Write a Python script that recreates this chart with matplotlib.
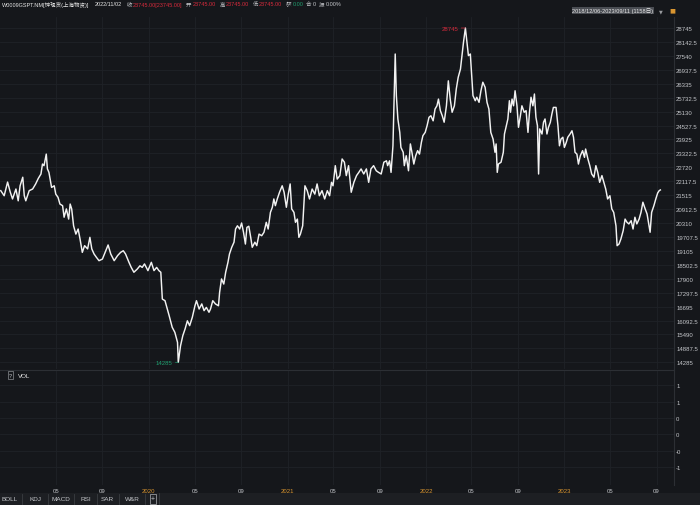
import numpy as np
import pandas as pd
import matplotlib
matplotlib.use("Agg")
import matplotlib.pyplot as plt

plt.rcParams['font.family'] = ['Liberation Sans', 'Noto Sans CJK SC', 'DejaVu Sans']

# zinc spot price (days counted from 2018-12-06)
start = pd.Timestamp('2018-12-06')
days_since_start = [
    1, 10, 19, 26, 32, 41, 47, 52, 59, 63, 67, 76, 85, 93, 100, 107, 111, 115, 121, 124,
    128, 135, 142, 146, 152, 157, 164, 168, 174, 180, 184, 188, 193, 199, 205, 210, 216, 222,
    230, 236, 241, 247, 253, 260, 269, 276, 284, 291, 300, 309, 317, 324, 330, 339, 345, 352,
    361, 368, 374, 380, 389, 398, 405, 412, 418, 423, 427, 434, 445, 453, 460, 467, 469, 475,
    481, 487, 493, 499, 506, 513, 517, 524, 531, 537, 543, 550, 554, 560, 567, 575, 578, 583,
    589, 594, 600, 604, 610, 616, 620, 625, 631, 636, 641, 646, 650, 655, 660, 664, 671, 676,
    682, 689, 695, 701, 706, 712, 717, 721, 725, 730, 736, 743, 748, 754, 759, 764, 768, 774,
    778, 783, 787, 791, 797, 803, 809, 815, 822, 829, 835, 841, 848, 855, 862, 868, 873, 877,
    883, 888, 895, 901, 907, 912, 918, 925, 932, 939, 945, 951, 958, 965, 971, 977, 984, 991,
    997, 1004, 1011, 1018, 1021, 1026, 1030, 1035, 1041, 1044, 1048, 1053, 1056, 1062, 1065,
    1070, 1076, 1081, 1085, 1090, 1095, 1100, 1105, 1110, 1114, 1120, 1125, 1130, 1135, 1141,
    1146, 1151, 1155, 1160, 1165, 1170, 1176, 1181, 1186, 1191, 1197, 1202, 1207, 1213, 1218,
    1221, 1226, 1230, 1234, 1239, 1242, 1246, 1252, 1256, 1262, 1267, 1272, 1278, 1283, 1288,
    1293, 1299, 1304, 1307, 1310, 1313, 1320, 1326, 1329, 1333, 1338, 1342, 1345, 1349, 1353,
    1357, 1362, 1366, 1371, 1375, 1381, 1386, 1391, 1395, 1399, 1404, 1408, 1412, 1416, 1419,
    1422, 1428, 1432, 1436, 1441, 1445, 1450, 1454, 1458, 1465, 1470, 1474, 1478, 1483, 1487,
    1492, 1496, 1502, 1507, 1511, 1515, 1520, 1524, 1529, 1535, 1540, 1543, 1549, 1554, 1559,
    1565, 1570, 1575, 1580, 1586, 1591, 1596, 1601, 1607, 1612, 1617, 1623, 1626, 1631, 1636,
    1642, 1647, 1652, 1657, 1663, 1668, 1673, 1678, 1684, 1689, 1694, 1700, 1705, 1710, 1713,
    1717, 1723, 1728, 1733, 1737, 1740,
]
close = [
    21710, 21490, 22080, 21650, 21350, 21780, 21270, 21920, 22290, 21490, 21270, 21710, 21780,
    22000, 22240, 22430, 22860, 22790, 23290, 22650, 22500, 21850, 21920, 21560, 21420, 21130,
    21060, 20560, 20920, 20480, 21130, 20920, 20190, 19830, 20050, 19620, 19040, 19330, 19190,
    19690, 19190, 18970, 18830, 18680, 18750, 19040, 19360, 18970, 18680, 18900, 19040, 19110,
    18970, 18610, 18390, 18180, 18320, 18460, 18390, 18540, 18250, 18610, 18250, 18390, 18250,
    18180, 17020, 16950, 16300, 15800, 15580, 15150, 14285, 15000, 15440, 15730, 16080, 15870,
    16230, 16730, 16950, 16590, 16810, 16520, 16660, 16450, 16590, 16950, 16810, 16730, 17310,
    17890, 17670, 18180, 18610, 18970, 19260, 19480, 20050, 20190, 20050, 20310, 19910, 19400,
    20120, 20170, 19690, 19260, 19480, 19330, 19830, 19760, 19910, 20340, 20050, 20770, 20990,
    21350, 21060, 21350, 21640, 21920, 21640, 20990, 21560, 22000, 20920, 20770, 20340, 20480,
    19690, 19830, 20190, 21920, 21710, 21350, 21780, 21560, 22000, 21490, 21710, 21350, 21710,
    21490, 22070, 21920, 22790, 22210, 22360, 23080, 22940, 22360, 22790, 21640, 22070, 22360,
    22500, 22650, 22430, 22650, 22070, 22650, 22790, 22570, 22500, 22430, 22940, 23000, 22790,
    23000, 22500, 23650, 27620, 25820, 24810, 24230, 23580, 23370, 22790, 23220, 22570, 23730,
    23370, 22860, 23220, 23440, 23290, 23800, 24090, 24230, 24520, 24880, 24950, 24730, 25240,
    25380, 25670, 25170, 24950, 24670, 25380, 26460, 25670, 25100, 25380, 26110, 26610, 26970,
    27690, 28130, 28745, 28130, 27550, 27620, 26830, 25820, 25600, 25750, 25530, 26030, 26400,
    26180, 25530, 25240, 24230, 23940, 23370, 23730, 22500, 22860, 22940, 23370, 24160, 24450,
    24810, 25600, 25100, 25670, 25380, 26030, 25380, 24450, 24950, 25380, 25100, 25170, 24230,
    25100, 25750, 25380, 25890, 24880, 24520, 22430, 24380, 24160, 24670, 24810, 24160, 24450,
    24670, 25020, 25310, 25310, 24520, 23650, 23940, 24020, 23580, 23800, 24020, 24160, 24300,
    24020, 23370, 23290, 22860, 23220, 23440, 23150, 23510, 23080, 22790, 22430, 22290, 22790,
    22500, 22070, 22360, 22070, 21780, 21350, 21490, 20920, 20770, 20190, 19330, 19400, 19620,
    19980, 20480, 20340, 20270, 20410, 20050, 20560, 20270, 20480, 20770, 21210, 20920, 20700,
    20190, 19910, 20770, 21060, 21350, 21610, 21710, 21740,
]
dates = start + pd.to_timedelta(days_since_start, unit='D')

price_ticks = np.arange(14285, 28745 + 1, 602.5)
vol_ticks = [1.2, 0.8, 0.4, 0.0, -0.4, -0.8]
x_tick_dates = pd.to_datetime([
    '2019-05-01', '2019-09-01', '2020-01-01', '2020-05-01', '2020-09-01', '2021-01-01',
    '2021-05-01', '2021-09-01', '2022-01-01', '2022-05-01', '2022-09-01', '2023-01-01',
    '2023-05-01', '2023-09-01'])
x_tick_labels = ['05', '09', '2020', '05', '09', '2021', '05', '09', '2022', '05', '09',
                 '2023', '05', '09']
buttons = ['BOLL', 'KDJ', 'MACD', 'RSI', 'SAR', 'W&R']

BG = '#15171b'
GRID = '#1f2227'
TXT = '#c4c6ca'
RED = '#d62a3c'
GREEN = '#1f9e6e'
ORANGE = '#d99530'
W, H = 700, 506

fig = plt.figure(figsize=(W / 100, H / 100), dpi=100, facecolor=BG)


def box(x0, y0, x1, y1):
    # pixel box (top-left origin) -> figure fraction rect
    return [x0 / W, 1 - y1 / H, (x1 - x0) / W, (y1 - y0) / H]


xlim = (start - pd.Timedelta(days=1), start + pd.Timedelta(days=1776))

ax = fig.add_axes(box(0, 18, 674, 370), facecolor=BG)
ax.plot(dates, close, color='#f2f2f2', lw=1.05, solid_joinstyle='round')
ax.set_xlim(xlim)
ax.set_ylim(13995, 29221)
ax.yaxis.tick_right()
ax.set_yticks(price_ticks)
ax.set_yticklabels([f'{v:.0f}' if v == int(v) else f'{v:.1f}' for v in price_ticks])
ax.set_xticks(x_tick_dates)
ax.tick_params(axis='y', length=0, pad=1.5, labelsize=4.3, labelcolor=TXT)
ax.tick_params(axis='x', length=0, labelbottom=False)
ax.grid(True, color=GRID, lw=0.6)
for s in ['top', 'left', 'bottom']:
    ax.spines[s].set_visible(False)
ax.spines['right'].set_color('#2c2f34')
ax.spines['right'].set_linewidth(0.8)

# max / min markers
i_max = int(np.argmax(close))
i_min = int(np.argmin(close))
ax.annotate(f'{close[i_max]}', xy=(dates[i_max], close[i_max]), xytext=(-5, 0),
            textcoords='offset points', ha='right', va='center', fontsize=4.3, color=RED,
            arrowprops=dict(arrowstyle='-', color=RED, lw=0.5, shrinkA=0, shrinkB=0))
ax.annotate(f'{close[i_min]}', xy=(dates[i_min], close[i_min]), xytext=(-4, 0),
            textcoords='offset points', ha='right', va='center', fontsize=4.3, color=GREEN,
            arrowprops=dict(arrowstyle='-', color=GREEN, lw=0.5, shrinkA=0, shrinkB=0))

# volume panel (empty)
axv = fig.add_axes(box(0, 371, 674, 486), facecolor=BG, sharex=ax)
axv.set_ylim(-1.24, 1.57)
axv.yaxis.tick_right()
axv.set_yticks(vol_ticks)
axv.set_yticklabels([f'{v:.0f}' if v >= 0 else f'-{abs(v):.0f}' for v in vol_ticks])
axv.set_xticks(x_tick_dates)
axv.set_xticklabels(x_tick_labels)
axv.tick_params(axis='y', length=0, pad=1.5, labelsize=4.3, labelcolor=TXT)
axv.tick_params(axis='x', length=0, pad=2.5, labelsize=4.3, labelcolor=TXT)
for lab in axv.get_xticklabels():
    if len(lab.get_text()) == 4:
        lab.set_color(ORANGE)
axv.grid(True, color=GRID, lw=0.6)
for s in ['left', 'bottom']:
    axv.spines[s].set_visible(False)
axv.spines['top'].set_color('#2c2f34')
axv.spines['top'].set_linewidth(0.8)
axv.spines['right'].set_color('#2c2f34')
axv.spines['right'].set_linewidth(0.8)
axv.set_xlim(xlim)

fig.text(9 / W, 1 - 376 / H, '?', fontsize=4, color=TXT, va='center', ha='left',
         bbox=dict(boxstyle='square,pad=0.2', fc=BG, ec='#8a8d92', lw=0.5))
fig.text(18 / W, 1 - 376 / H, 'VOL', fontsize=4.5, color='#e6e6e6', va='center')

# header line, laid out left to right
renderer = fig.canvas.get_renderer()
hy = 1 - 5 / H
header = [
    ('W0009GSPT.NM[锌现货(上海物资)]', '#e6e6e6', 5),
    ('2022/11/02', '#e6e6e6', 5),
    ('收', TXT, 1), ('23745.00[23745.00]', RED, 3.5),
    ('开', TXT, 1), ('23745.00', RED, 3.5),
    ('高', TXT, 1), ('23745.00', RED, 3.5),
    ('低', TXT, 1), ('23745.00', RED, 3.5),
    ('额', TXT, 1), ('0.00', GREEN, 3),
    ('合', TXT, 1), ('0', TXT, 3),
    ('振', TXT, 1), ('0.00%', TXT, 3),
]
hx = 2
for s, c, gap in header:
    t = fig.text(hx / W, hy, s, fontsize=3.95, color=c, va='center', ha='left')
    hx = t.get_window_extent(renderer).x1 + gap

fig.text(613 / W, 1 - 11.5 / H, '2018/12/06-2023/09/11 (1158日)', fontsize=4.1,
         color='#e8e8e8', ha='center', va='center',
         bbox=dict(boxstyle='square,pad=0.15', fc='#4a4d53', ec='none'))
fig.text(661 / W, 1 - 11.5 / H, '▼', fontsize=3.5, color='#9a9ca0', ha='center',
         va='center', family='DejaVu Sans')
fig.text(672 / W, 1 - 10.5 / H, '■', fontsize=4.5, color=ORANGE, ha='center', va='center',
         family='DejaVu Sans')

# bottom toolbar
axb = fig.add_axes(box(0, 494, 700, 506), facecolor='#1d1f23')
axb.set_xlim(0, W)
axb.set_ylim(0, 1)
axb.axis('off')
axb.add_patch(plt.Rectangle((0, 0), W, 1, color='#1d1f23'))
bx = [10, 35, 61, 85.5, 107.5, 132]
for x, s in zip(bx, buttons):
    axb.text(x, 0.5, s, fontsize=4.6, color=TXT, ha='center', va='center')
for x in [22, 48, 74, 97, 119, 145]:
    axb.plot([x, x], [0.1, 0.9], color='#3a3d42', lw=0.6)
axb.text(153, 0.5, '+', fontsize=5, color=TXT, ha='center', va='center',
         bbox=dict(boxstyle='square,pad=0.15', fc='#1d1f23', ec='#b0b2b6', lw=0.5))
axb.plot([159, 159], [0.0, 1.0], color='#3a3d42', lw=0.6)

fig.savefig('out.png', dpi=100, facecolor=BG)
